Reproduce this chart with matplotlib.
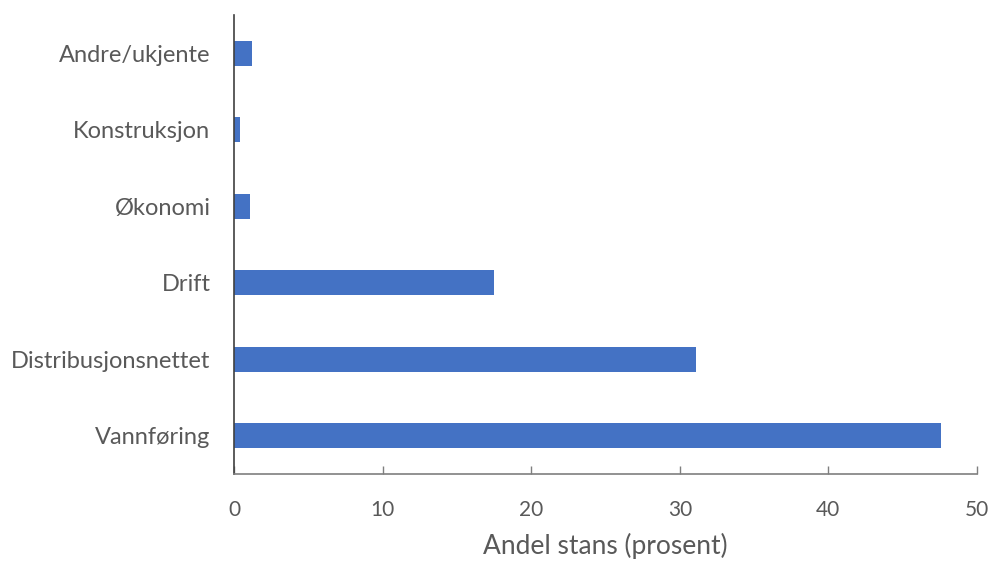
import matplotlib
matplotlib.use('Agg')
from matplotlib import pyplot as plt
from matplotlib import rc

categories = ['Vannføring', 'Distribusjonsnettet', 'Drift', 'Økonomi',
              'Konstruksjon', 'Andre/ukjente']
values = [47.6, 31.1, 17.5, 1.1, 0.4, 1.2]
xticks = [0, 10, 20, 30, 40, 50]

rc('font', family=['Lato', 'DejaVu Sans'])

fig = plt.figure(figsize=(9.94, 5.64), dpi=100)
ax = fig.add_axes([0.2354, 0.1596, 0.7475, 0.8138])

ax.barh(range(len(categories)), values, height=0.33, color='#4472C4')
ax.set_yticks(range(len(categories)))
ax.set_yticklabels(categories)
ax.set_ylim(-0.5, len(categories) - 0.5)
ax.set_xlim(0, 50)
ax.set_xticks(xticks)

ax.set_xlabel('Andel stans (prosent)', fontsize=19, color='#595959', labelpad=9)
ax.tick_params(axis='y', length=0, pad=17, labelsize=17, labelcolor='#595959')
ax.tick_params(axis='x', direction='in', length=6, width=1, color='#7f7f7f',
               pad=19, labelsize=15, labelcolor='#595959')

for loc in ['right', 'top']:
    ax.spines[loc].set_color('none')
ax.spines['left'].set_color('#404040')
ax.spines['bottom'].set_color('#7f7f7f')
ax.spines['left'].set_linewidth(1.2)
ax.spines['bottom'].set_linewidth(1.2)

fig.savefig('out.png', dpi=100)
